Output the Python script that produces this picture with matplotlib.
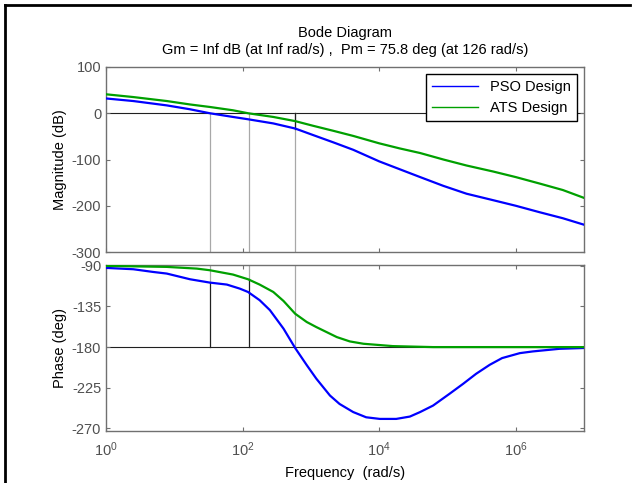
import numpy as np
import matplotlib
matplotlib.use("Agg")
import matplotlib.pyplot as plt
from matplotlib.lines import Line2D

plt.rcParams['font.family'] = ['Liberation Sans', 'DejaVu Sans']
plt.rcParams['axes.unicode_minus'] = False
plt.rcParams['mathtext.fontset'] = 'custom'
plt.rcParams['mathtext.rm'] = 'Liberation Sans'
plt.rcParams['mathtext.it'] = 'Liberation Sans:italic'

# values (log10 of frequency in rad/s)
mag_logw = [0, 0.4, 0.89, 1.23, 1.52, 1.86, 2.08, 2.45, 2.77, 3.03, 3.33, 3.62,
            4.0, 4.3, 4.6, 4.94, 5.28, 5.67, 6.0, 6.35, 6.69, 7.0]
pso_mag_db = [32, 26.4, 17, 8.6, 0, -8, -13, -22, -33, -47, -63, -79,
              -104, -121, -138, -157, -174, -188, -200, -214, -227, -241]
ats_mag_db = [41, 35, 26.4, 19, 13.6, 6.4, 0, -8, -17, -27, -38, -49,
              -65, -76, -86, -100, -113, -126, -138, -152, -166, -183]

pso_ph_logw = [0, 0.4, 0.69, 0.89, 1.23, 1.52, 1.77, 1.96, 2.08, 2.25, 2.4, 2.6,
               2.77, 2.94, 3.08, 3.28, 3.42, 3.62, 3.81, 4.01, 4.25, 4.45, 4.6,
               4.79, 5.03, 5.23, 5.42, 5.62, 5.8, 6.06, 6.25, 6.64, 7.0]
pso_ph_deg = [-92.2, -93.7, -96.7, -98.5, -104.8, -108.5, -110.7, -115.2, -118.9, -128, -139, -159.6,
              -181, -200, -215, -233.7, -243, -252, -257.8, -259.6, -259.6, -257, -252,
              -244.8, -231.8, -220.7, -209.6, -199.6, -192.2, -186.7, -184.8, -181.9, -181]

ats_ph_logw = [0, 0.89, 1.33, 1.52, 1.86, 2.08, 2.25, 2.45, 2.6, 2.77, 2.94, 3.08,
               3.38, 3.57, 3.77, 4.2, 4.79, 7.0]
ats_ph_deg = [-90, -91.1, -93, -94.8, -99.6, -104.8, -110.7, -118.9, -128.9, -143, -152.2, -157.8,
              -168.9, -173.7, -176.3, -178.9, -180, -180]

# margin data
pso_wc_log = 1.52      # PSO gain crossover
ats_wc_log = 2.10      # ATS gain crossover (126 rad/s)
pso_w180_log = 2.77    # PSO phase crossover
pso_ph_at_wc = -108.5
ats_ph_at_wc = -104.2
pso_mag_at_w180 = -33

title1 = "Bode Diagram"
title2 = "Gm = Inf dB (at Inf rad/s) ,  Pm = 75.8 deg (at 126 rad/s)"

blue = '#0000ff'
green = '#00a000'
lgray = '#a8a8a8'
dark = '#202020'
axcol = '#707070'
tickcol = '#505050'

fig = plt.figure(figsize=(6.37, 4.83), dpi=100)
ax1 = fig.add_axes([106/637, 1-252/483, 478/637, 185/483])
ax2 = fig.add_axes([106/637, 1-431/483, 478/637, 166/483])

w = lambda lg: 10.0 ** np.asarray(lg)

# magnitude
ax1.axhline(0, color=dark, lw=0.8, zorder=1)
for lg in [pso_wc_log, ats_wc_log, pso_w180_log]:
    ax1.plot([w(lg), w(lg)], [-300, 0], color=lgray, lw=0.9, zorder=1)
ax1.plot([w(pso_w180_log), w(pso_w180_log)], [pso_mag_at_w180, 0], color=dark, lw=0.9, zorder=1)
ax1.plot(w(mag_logw), pso_mag_db, color=blue, lw=1.6, zorder=3)
ax1.plot(w(mag_logw), ats_mag_db, color=green, lw=1.6, zorder=3)

# phase
ax2.axhline(-180, color=dark, lw=0.8, zorder=1)
ax2.plot([w(pso_wc_log)] * 2, [-89, pso_ph_at_wc], color=lgray, lw=0.9, zorder=1)
ax2.plot([w(pso_wc_log)] * 2, [pso_ph_at_wc, -180], color=dark, lw=0.9, zorder=1)
ax2.plot([w(ats_wc_log)] * 2, [-89, ats_ph_at_wc], color=lgray, lw=0.9, zorder=1)
ax2.plot([w(ats_wc_log)] * 2, [ats_ph_at_wc, -180], color=dark, lw=0.9, zorder=1)
ax2.plot([w(pso_w180_log)] * 2, [-89, -180], color=lgray, lw=0.9, zorder=1)
ax2.plot(w(pso_ph_logw), pso_ph_deg, color=blue, lw=1.6, zorder=3)
ax2.plot(w(ats_ph_logw), ats_ph_deg, color=green, lw=1.6, zorder=3)

for ax in (ax1, ax2):
    ax.set_xscale('log')
    ax.set_xlim(1, 1e7)
    ax.set_xticks([1, 1e2, 1e4, 1e6])
    ax.xaxis.set_minor_locator(matplotlib.ticker.NullLocator())
    ax.tick_params(direction='in', length=3, width=0.8, color=axcol, labelcolor=tickcol,
                   labelsize=10.5, top=True, right=True)
    for s in ax.spines.values():
        s.set_color(axcol)
        s.set_linewidth(1.0)

ax2.tick_params(axis='x', pad=7)
ax1.set_ylim(-300, 100)
ax1.set_yticks([-300, -200, -100, 0, 100])
ax1.set_xticklabels([])
ax2.set_ylim(-273, -89)
ax2.set_yticks([-270, -225, -180, -135, -90])

ax1.set_ylabel('Magnitude (dB)', fontsize=10.5)
ax2.set_ylabel('Phase (deg)', fontsize=10.5)
ax2.set_xlabel('Frequency  (rad/s)', fontsize=10.5, labelpad=5)
ax1.yaxis.set_label_coords(-0.082, 0.5)
ax2.yaxis.set_label_coords(-0.082, 0.5)

handles = [Line2D([], [], color=blue, lw=1.0), Line2D([], [], color=green, lw=1.0)]
leg = ax1.legend(handles, ['PSO Design', 'ATS Design'], loc='upper right', fontsize=10.5,
                 fancybox=False, framealpha=1, edgecolor='black', handlelength=3.2,
                 borderaxespad=0.5, labelspacing=0.45)
leg.get_frame().set_linewidth(1.0)

fig.text(345/637, 1-33/483, title1, ha='center', va='center', fontsize=10.5)
fig.text(345/637, 1-50/483, title2, ha='center', va='center', fontsize=10.5)

# outer frame
fig.add_artist(Line2D([5/637, 5/637], [0, 1-5/483], color='black', lw=2, transform=fig.transFigure))
fig.add_artist(Line2D([5/637, 630/637], [1-5/483, 1-5/483], color='black', lw=2, transform=fig.transFigure))

fig.savefig('out.png', dpi=100)
